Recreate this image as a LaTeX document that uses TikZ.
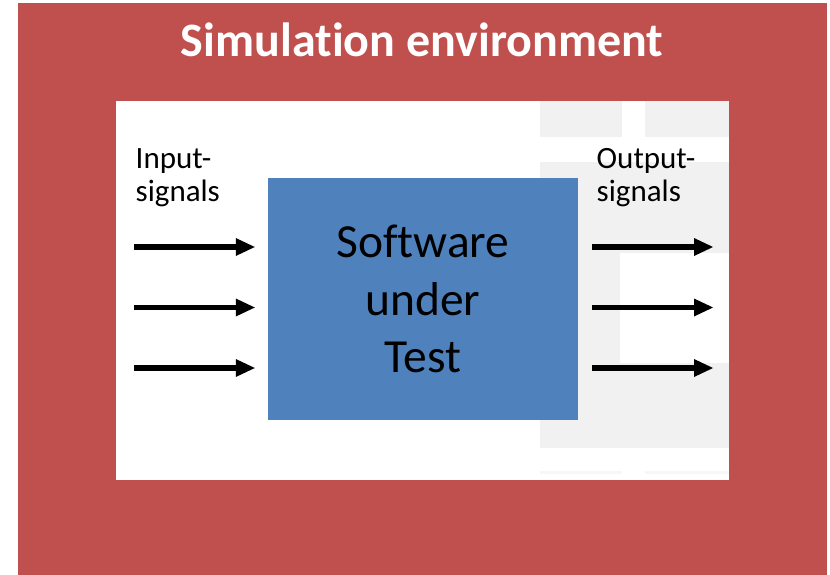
\documentclass[tikz,border=0pt]{standalone}
\usepackage{fontspec}
\setmainfont[Ligatures={NoCommon,NoContextual}]{Carlito}
\usetikzlibrary{arrows.meta}
\definecolor{envred}{HTML}{C0504D}
\definecolor{sutblue}{HTML}{4F81BD}
\definecolor{faintgray}{HTML}{F1F1F1}
\begin{document}
\begin{tikzpicture}[x=1pt,y=-1pt,
  sigarrow/.style={line width=5.5pt,-{Triangle[length=19pt,width=18pt,line width=0pt]}},
  siglabel/.style={anchor=north west,inner sep=0pt,align=left,font=\fontsize{31}{32.5}\selectfont}]
\useasboundingbox (0,0) rectangle (830,575);
\fill[white] (0,0) rectangle (830,575);
\fill[envred] (18,3) rectangle (827,575);
\fill[white] (116,101) rectangle (729,480);
% faint background pattern
\fill[faintgray] (540,101) rectangle (622,137);
\fill[faintgray] (645,101) rectangle (729,137);
\fill[faintgray] (540,162) rectangle (729,448);
\fill[white] (620,253) rectangle (729,363);
\fill[faintgray!60] (540,471) rectangle (622,474);
\fill[faintgray!60] (645,471) rectangle (729,474);
% title
\node[font=\fontsize{48}{56}\selectfont\bfseries,text=white,anchor=base,inner sep=0pt] (title) at (422,57) {Simulation environment};
% software under test
\node[fill=sutblue,minimum width=310pt,minimum height=242pt,inner sep=0pt,align=center,
      font=\fontsize{47.5}{57.5}\selectfont] (sut) at (423,299) {Software\\under\\Test};
% labels
\node[siglabel] (inlab) at (135.5,148.5) {Input-\\signals};
\node[siglabel] (outlab) at (596.5,148.5) {Output-\\signals};
% arrow ends
\coordinate (in1) at (134,247);
\coordinate (in2) at (134,307.5);
\coordinate (in3) at (134,368);
\coordinate (out1) at (713,247);
\coordinate (out2) at (713,307.5);
\coordinate (out3) at (713,368);
\foreach \i in {1,2,3}{
  \draw[sigarrow,shorten >=13pt] (in\i) -- (in\i -| sut.west);
  \draw[sigarrow,shorten <=14pt] (out\i -| sut.east) -- (out\i);
}
\end{tikzpicture}
\end{document}
